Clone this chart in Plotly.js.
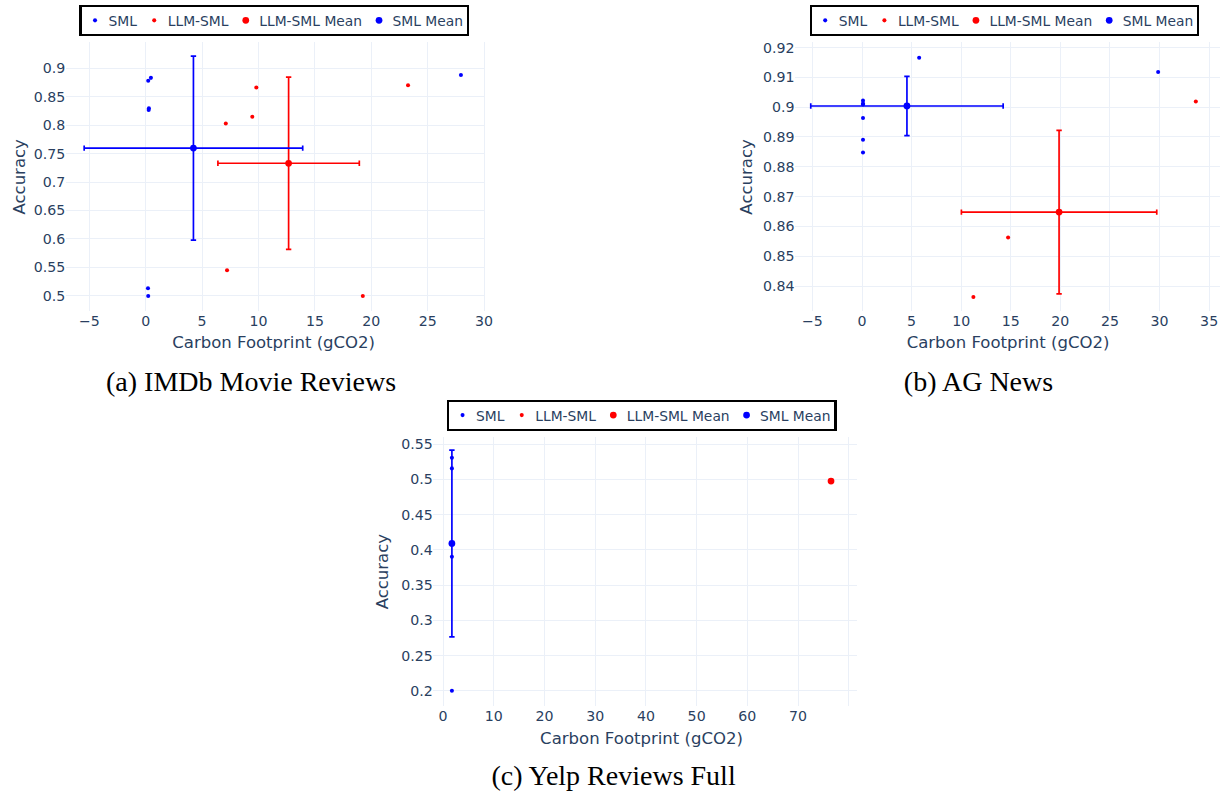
<!DOCTYPE html>
<html><head><meta charset="utf-8">
<script src="https://cdn.plot.ly/plotly-3.0.1.min.js"></script>
<style>
html,body{margin:0;padding:0;background:#fff;overflow:hidden;}
#wrap{width:1225px;height:791px;overflow:hidden;position:relative;background:#fff;}
#chart{width:1815px;height:1172px;transform:scale(0.675);transform-origin:0 0;}
</style></head><body><div id="wrap"><div id="chart"></div></div>
<script>
// ---------- data ----------
// (a) IMDb Movie Reviews
const imdbSmlX = [0.22, 0.46, 0.28, 0.26, 0.20, 0.22, 27.95];
const imdbSmlY = [0.878, 0.883, 0.8295, 0.8265, 0.5135, 0.500, 0.888];
const imdbLlmX = [7.10, 9.45, 9.81, 23.26, 7.21, 19.25];
const imdbLlmY = [0.803, 0.8146, 0.866, 0.870, 0.545, 0.500];
const imdbSmlMean = [4.23, 0.7596];
const imdbSmlStd  = [9.69, 0.1617];
const imdbLlmMean = [12.67, 0.733];
const imdbLlmStd  = [6.27, 0.1514];

// (b) AG News
const agSmlX = [5.76, 0.10, 0.10, 0.10, 0.10, 0.10, 0.10, 29.86];
const agSmlY = [0.9166, 0.9022, 0.9012, 0.9009, 0.8964, 0.8891, 0.8848, 0.9118];
const agLlmX = [11.23, 14.73, 33.66];
const agLlmY = [0.8363, 0.8563, 0.9019];
const agSmlMean = [4.53, 0.9004];
const agSmlStd  = [9.70, 0.00995];
const agLlmMean = [19.87, 0.8648];
const agLlmStd  = [9.85, 0.0274];

// (c) Yelp Reviews Full
const yelpSmlX = [1.75, 1.75, 1.75, 1.75];
const yelpSmlY = [0.5306, 0.5155, 0.390, 0.200];
const yelpLlmX = [76.5];
const yelpLlmY = [0.4975];
const yelpSmlMean = [1.75, 0.409];
const yelpSmlStd  = [0, 0.1325];
const yelpLlmMean = [76.5, 0.4975];
const yelpLlmStd  = [0, 0];

const seriesNames = ['SML', 'LLM-SML', 'LLM-SML Mean', 'SML Mean'];
const captions = ['(a) IMDb Movie Reviews', '(b) AG News', '(c) Yelp Reviews Full'];
const xTitle = 'Carbon Footprint (gCO2)';
const yTitle = 'Accuracy';
const yelpXTicks = [0, 10, 20, 30, 40, 50, 60, 70, 80];
const yelpXTickText = ['0', '10', '20', '30', '40', '50', '60', '70', ''];

// ---------- styling ----------
const FONT = 'DejaVu Sans';
const TXT = '#2a3f5f';
const GRID = '#EBF0F8';
const BLUE = '#0000ff', RED = '#ff0000';

const panels = [
  {smlX: imdbSmlX, smlY: imdbSmlY, llmX: imdbLlmX, llmY: imdbLlmY,
   sM: imdbSmlMean, sS: imdbSmlStd, lM: imdbLlmMean, lS: imdbLlmStd},
  {smlX: agSmlX, smlY: agSmlY, llmX: agLlmX, llmY: agLlmY,
   sM: agSmlMean, sS: agSmlStd, lM: agLlmMean, lS: agLlmStd},
  {smlX: yelpSmlX, smlY: yelpSmlY, llmX: yelpLlmX, llmY: yelpLlmY,
   sM: yelpSmlMean, sS: yelpSmlStd, lM: yelpLlmMean, lS: yelpLlmStd}
];

const traces = [];
panels.forEach((p, i) => {
  const sfx = i === 0 ? '' : String(i + 1);
  const common = {type: 'scatter', mode: 'markers', xaxis: 'x' + sfx, yaxis: 'y' + sfx, legend: 'legend' + sfx};
  traces.push(Object.assign({}, common, {name: seriesNames[0], x: p.smlX, y: p.smlY,
    marker: {color: BLUE, size: 6}}));
  traces.push(Object.assign({}, common, {name: seriesNames[1], x: p.llmX, y: p.llmY,
    marker: {color: RED, size: 6}}));
  traces.push(Object.assign({}, common, {name: seriesNames[2], x: [p.lM[0]], y: [p.lM[1]],
    marker: {color: RED, size: 10},
    error_x: {type: 'data', array: [p.lS[0]], visible: true, color: RED, thickness: 2.5, width: 4},
    error_y: {type: 'data', array: [p.lS[1]], visible: true, color: RED, thickness: 2.5, width: 4}}));
  traces.push(Object.assign({}, common, {name: seriesNames[3], x: [p.sM[0]], y: [p.sM[1]],
    marker: {color: BLUE, size: 10},
    error_x: {type: 'data', array: [p.sS[0]], visible: true, color: BLUE, thickness: 2.5, width: 4},
    error_y: {type: 'data', array: [p.sS[1]], visible: true, color: BLUE, thickness: 2.5, width: 4}}));
});

function axis(domain, range, anchor, extra) {
  return Object.assign({
    domain: domain, range: range, anchor: anchor,
    showgrid: true, gridcolor: GRID, gridwidth: 1.5,
    zeroline: false, showline: false, ticks: '', automargin: false,
    tickfont: {family: FONT, size: 21, color: TXT}
  }, extra || {});
}
function legend(x, y) {
  return {orientation: 'h', x: x, xanchor: 'center', y: y, yanchor: 'bottom',
    bgcolor: '#ffffff', bordercolor: '#000000', borderwidth: 3,
    font: {family: FONT, size: 20.5, color: TXT}};
}
function caption(text, x, y) {
  return {text: text, xref: 'paper', yref: 'paper', x: x, y: y, xanchor: 'center', yanchor: 'middle',
    showarrow: false, font: {family: 'Liberation Serif', size: 41.5, color: '#000000'}};
}
function axTitle(text, x, y, angle) {
  return {text: text, xref: 'paper', yref: 'paper', x: x, y: y, xanchor: 'center', yanchor: 'middle',
    textangle: angle, showarrow: false, font: {family: FONT, size: 24.5, color: TXT}};
}

const layout = {
  width: 1815, height: 1172,
  margin: {l: 0, r: 0, t: 0, b: 0, pad: 0},
  paper_bgcolor: '#ffffff', plot_bgcolor: '#ffffff',
  font: {family: FONT, color: TXT},
  showlegend: true,
  xaxis:  axis([0.05388, 0.39592], [-7.07, 30.09], 'y', {dtick: 5, tick0: 0}),
  yaxis:  axis([0.607, 0.947], [0.4737, 0.9461], 'x', {dtick: 0.05, tick0: 0}),
  xaxis2: axis([0.64898, 0.99592], [-6.75, 36.11], 'y2', {dtick: 5, tick0: 0}),
  yaxis2: axis([0.607, 0.947], [0.83166, 0.92189], 'x2', {dtick: 0.01, tick0: 0}),
  xaxis3: axis([0.35371, 0.69935], [-1.91, 81.58], 'y3', {tickmode: 'array', tickvals: yelpXTicks, ticktext: yelpXTickText}),
  yaxis3: axis([0.10746, 0.44791], [0.17829, 0.56036], 'x3', {dtick: 0.05, tick0: 0}),
  legend:  legend(0.22384, 0.95449),
  legend2: legend(0.81984, 0.95449),
  legend3: legend(0.52384, 0.45550),
  annotations: [
    axTitle(xTitle, 0.22367, 0.56726, 0),
    axTitle(yTitle, 0.01551, 0.77668, -90),
    axTitle(xTitle, 0.82286, 0.56764, 0),
    axTitle(yTitle, 0.60898, 0.77668, -90),
    axTitle(xTitle, 0.52384, 0.06738, 0),
    axTitle(yTitle, 0.31241, 0.27753, -90),
    caption(captions[0], 0.20473, 0.51745),
    caption(captions[1], 0.7984, 0.51745),
    caption(captions[2], 0.50065, 0.01896)
  ]
};

Plotly.newPlot('chart', traces, layout, {displayModeBar: false, staticPlot: true});
</script></body></html>
